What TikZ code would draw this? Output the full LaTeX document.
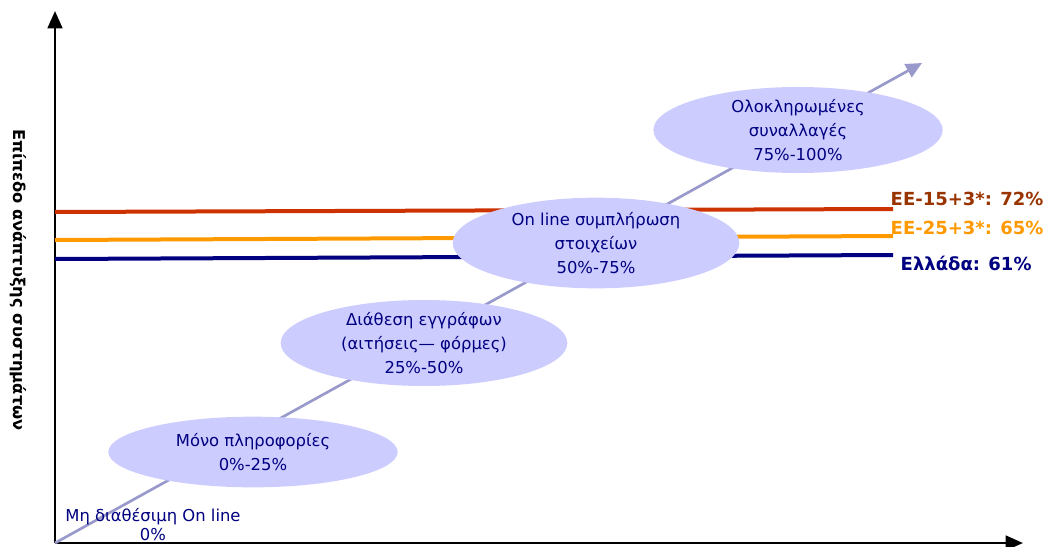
\documentclass[tikz,border=0pt]{standalone}
\usepackage{fontspec}
\setmainfont{DejaVu Sans}
\usetikzlibrary{arrows.meta,shapes.geometric}
\definecolor{bubblefill}{HTML}{CCCCFF}
\definecolor{trend}{HTML}{9999CC}
\definecolor{navytext}{HTML}{000080}
\definecolor{eufifteen}{HTML}{CC3300}
\definecolor{eufifteentext}{HTML}{993300}
\definecolor{eutwentyfive}{HTML}{FF9900}
\begin{document}
\begin{tikzpicture}[x=0.75pt,y=-0.75pt,
  bubble/.style={ellipse, fill=bubblefill, draw=none, inner sep=0pt, align=center,
    text=navytext, font=\fontsize{12.3}{17.8}\selectfont},
  level/.style={line width=3pt},
  levellabel/.style={anchor=west, font=\fontsize{13.5}{15}\selectfont\bfseries},
  axis/.style={line width=2pt, -{Triangle[length=13pt,width=11pt]}}]
\useasboundingbox (0,0) rectangle (1045,546);
% axes
\coordinate (origin) at (55,543);
\coordinate (ytip) at (55,11);
\coordinate (xtip) at (1023,543);
\draw[axis] (origin) -- (ytip);
\draw[axis] (origin) -- (xtip);
\node[rotate=-90, font=\fontsize{12.2}{14}\selectfont\bfseries] (ylabel) at (18,280) {Επίπεδο ανάπτυξης συστημάτων};
% levels
\coordinate (redL) at (55,212);   \coordinate (redR) at (893,209);
\coordinate (orangeL) at (55,240); \coordinate (orangeR) at (893,236);
\coordinate (blueL) at (55,259);  \coordinate (blueR) at (893,255);
\draw[level, eufifteen] (redL) -- (redR);
\draw[level, eutwentyfive] (orangeL) -- (orangeR);
\draw[level, navytext] (blueL) -- (blueR);
\node[levellabel, text=eufifteentext] (eu15) at (886,199) {ΕΕ-15+3*: 72\%};
\node[levellabel, text=eutwentyfive] (eu25) at (886,228) {ΕΕ-25+3*: 65\%};
\node[levellabel, text=navytext] (greece) at (896,263) {Ελλάδα: 61\%};
% trend
\coordinate (trendtip) at (922,63);
\draw[trend, line width=2pt, -{Triangle[length=12pt,width=11pt]}] (origin) -- (trendtip);
% stages
\node[bubble, minimum width=217pt, minimum height=53pt] (info) at (253,452) {Μόνο πληροφορίες\\0\%-25\%};
\node[bubble, minimum width=215pt, minimum height=64pt] (forms) at (424,343) {Διάθεση εγγράφων\\(αιτήσεις— φόρμες)\\25\%-50\%};
\node[bubble, minimum width=215pt, minimum height=68pt] (fill) at (596,243) {On line συμπλήρωση\\στοιχείων\\50\%-75\%};
\node[bubble, minimum width=217pt, minimum height=63pt] (full) at (798,130) {Ολοκληρωμένες\\συναλλαγές\\75\%-100\%};
\node[align=center, text=navytext, font=\fontsize{12.3}{14.3}\selectfont] (none) at (153,525) {Μη διαθέσιμη On line\\0\%};
\end{tikzpicture}
\end{document}
